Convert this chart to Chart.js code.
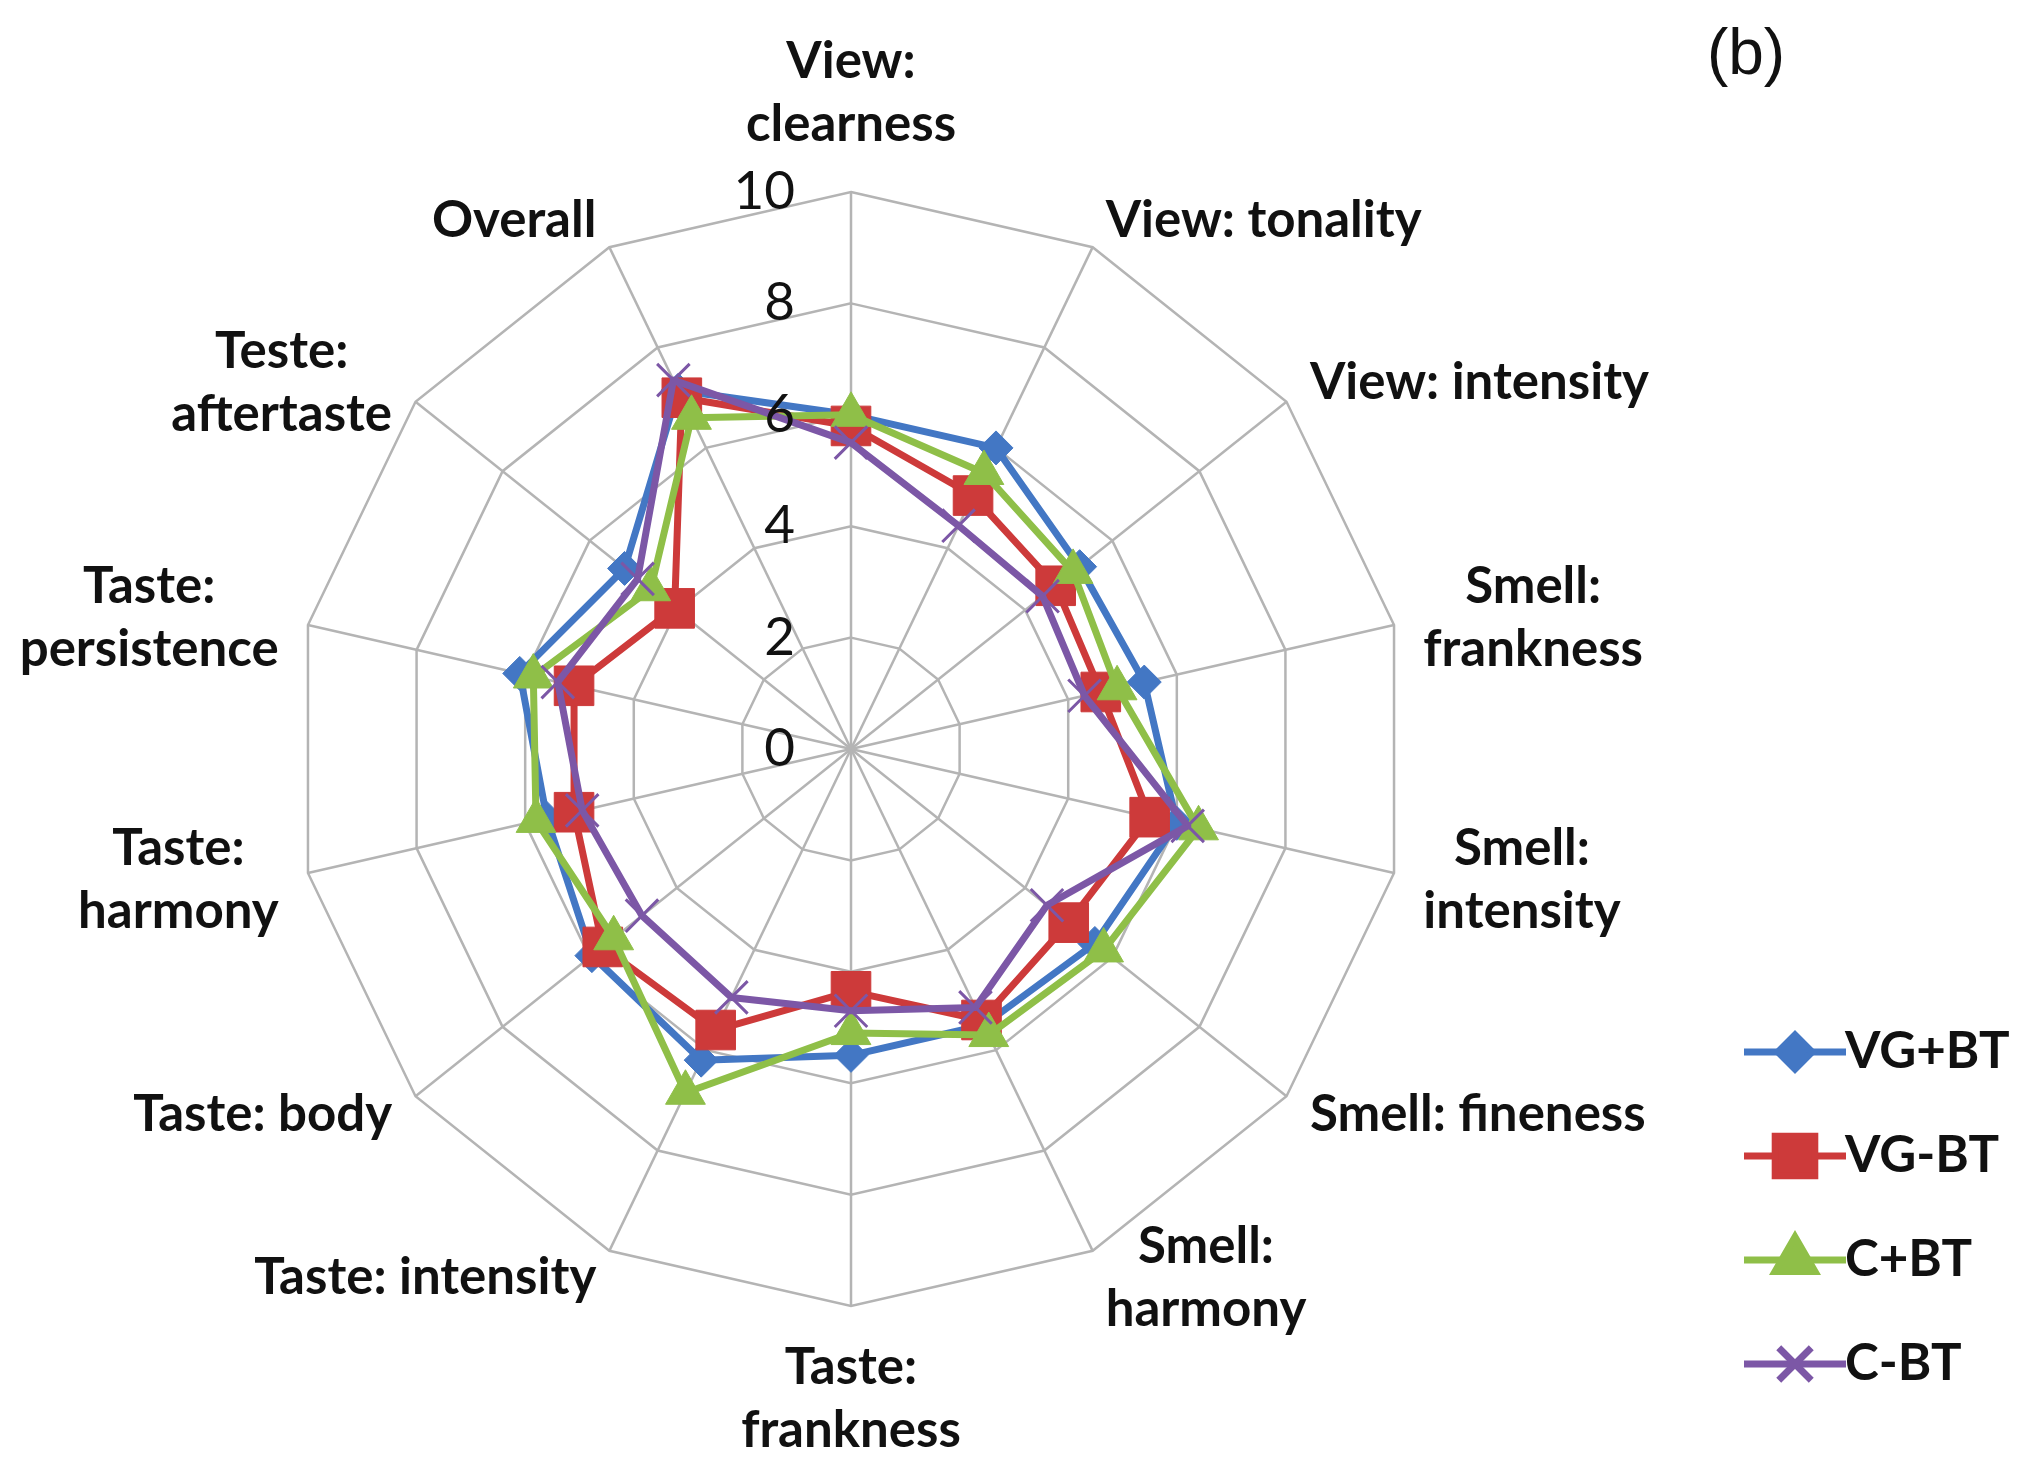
<!DOCTYPE html>
<html>
<head>
<meta charset="utf-8">
<script src="https://cdn.jsdelivr.net/npm/chart.js@4.4.1/dist/chart.umd.min.js"></script>
<style>
  html, body { margin: 0; padding: 0; background: #fff; }
  #wrap { width: 2036px; height: 1475px; position: relative; }
</style>
</head>
<body>
<div id="wrap"><canvas id="chart-radar"></canvas></div>
<script>
const categories = [
  ['View:', 'clearness'],
  ['View: tonality'],
  ['View: intensity'],
  ['Smell:', 'frankness'],
  ['Smell:', 'intensity'],
  ['Smell: fineness'],
  ['Smell:', 'harmony'],
  ['Taste:', 'frankness'],
  ['Taste: intensity'],
  ['Taste: body'],
  ['Taste:', 'harmony'],
  ['Taste:', 'persistence'],
  ['Teste:', 'aftertaste'],
  ['Overall']
];
const seriesNames = ['VG+BT', 'VG-BT', 'C+BT', 'C-BT'];
const vgPlusBT  = [6.0, 6.0, 5.25, 5.4, 6.0, 5.6, 5.5, 5.5, 6.2, 5.95, 5.6, 6.1, 5.2, 7.15];
const vgMinusBT = [5.8, 5.05, 4.7, 4.6, 5.5, 5.0, 5.4, 4.35, 5.6, 5.7, 5.1, 5.1, 4.05, 7.0];
const cPlusBT   = [6.0, 5.5, 5.1, 4.9, 6.4, 5.8, 5.7, 5.1, 6.85, 5.45, 5.8, 5.85, 4.6, 6.6];
const cMinusBT  = [5.5, 4.45, 4.4, 4.3, 6.2, 4.5, 5.15, 4.7, 4.95, 4.8, 4.95, 5.4, 4.9, 7.35];
const tickValues = [0, 2, 4, 6, 8, 10];

const colors = ['#4377C4', '#CD3A3A', '#8FBF48', '#7C57A6'];
const markers = [
  { style: 'rectRot', radius: 17 },
  { style: 'rect', radius: 28 },
  { style: 'triangle', radius: 23 },
  { style: 'crossRot', radius: 23 }
];
const labelFont = "bold 51px Lato, sans-serif";

function makeSet(name, values, idx) {
  return {
    label: name,
    data: values,
    borderColor: colors[idx],
    backgroundColor: colors[idx],
    borderWidth: 7,
    borderJoinStyle: 'round',
    fill: false,
    pointStyle: markers[idx].style,
    pointRadius: markers[idx].radius,
    pointHoverRadius: markers[idx].radius,
    pointBackgroundColor: colors[idx],
    pointBorderColor: colors[idx],
    pointBorderWidth: idx === 3 ? 3 : 1,
    order: 4 - idx
  };
}

// texts: tick numbers, axis names, legend, panel letter
const radarText = {
  id: 'radarText',
  afterDatasetsDraw(chart) {
    const { ctx, scales: { r } } = chart;
    ctx.save();

    // tick numbers left of the vertical axis
    ctx.font = "53px Lato, sans-serif";
    ctx.fillStyle = '#111';
    ctx.textAlign = 'right';
    ctx.textBaseline = 'middle';
    tickValues.forEach(v => {
      const y = r.yCenter - r.getDistanceFromCenterForValue(v);
      ctx.fillText(String(v), r.xCenter - 56, y);
    });

    // axis names
    ctx.font = labelFont;
    ctx.textAlign = 'center';
    const lineH = 63;
    categories.forEach((lines, i) => {
      const deg = r.getIndexAngle(i) * 180 / Math.PI;
      const pos = r.getPointPosition(i, r.drawingArea + 30);
      const w = Math.max(...lines.map(l => ctx.measureText(l).width));
      const n = lines.length;
      let cx = pos.x, top;
      if (Math.abs(deg) < 1) {
        top = pos.y - n * lineH - 6;
      } else if (Math.abs(deg - 180) < 1) {
        top = pos.y;
      } else {
        cx = deg < 180 ? pos.x + w / 2 : pos.x - w / 2;
        top = pos.y - n * lineH / 2;
      }
      lines.forEach((l, k) => ctx.fillText(l, cx, top + (k + 0.5) * lineH));
    });

    // legend
    const legY = [1052, 1156, 1260, 1364];
    chart.data.datasets.forEach((ds, i) => {
      const y = legY[i];
      ctx.strokeStyle = ds.borderColor;
      ctx.lineWidth = 7;
      ctx.beginPath();
      ctx.moveTo(1744, y);
      ctx.lineTo(1846, y);
      ctx.stroke();
      ctx.fillStyle = ds.borderColor;
      Chart.helpers.drawPoint(ctx, {
        pointStyle: ds.pointStyle,
        radius: ds.pointRadius,
        rotation: 0,
        borderWidth: ds.pointBorderWidth
      }, 1795, y);
      ctx.fillStyle = '#111';
      ctx.textAlign = 'left';
      ctx.fillText(ds.label, 1845, y);
    });

    // panel letter
    ctx.font = "64px 'Liberation Sans', Arial, sans-serif";
    ctx.textAlign = 'center';
    ctx.fillText('(b)', 1746, 56);
    ctx.restore();
  }
};

new Chart(document.getElementById('chart-radar'), {
  type: 'radar',
  data: {
    labels: categories,
    datasets: [
      makeSet(seriesNames[0], vgPlusBT, 0),
      makeSet(seriesNames[1], vgMinusBT, 1),
      makeSet(seriesNames[2], cPlusBT, 2),
      makeSet(seriesNames[3], cMinusBT, 3)
    ]
  },
  options: {
    responsive: true,
    maintainAspectRatio: false,
    animation: false,
    layout: { padding: { left: 294, right: 628, top: 192, bottom: 169 } },
    plugins: {
      legend: { display: false },
      tooltip: { enabled: false }
    },
    elements: { line: { tension: 0 } },
    scales: {
      r: {
        min: 0,
        max: 10,
        ticks: { display: false, stepSize: 2 },
        pointLabels: { display: false },
        grid: { color: '#B4B4B4', lineWidth: 2.5 },
        angleLines: { color: '#B4B4B4', lineWidth: 2.5 }
      }
    }
  },
  plugins: [radarText]
});
</script>
</body>
</html>
